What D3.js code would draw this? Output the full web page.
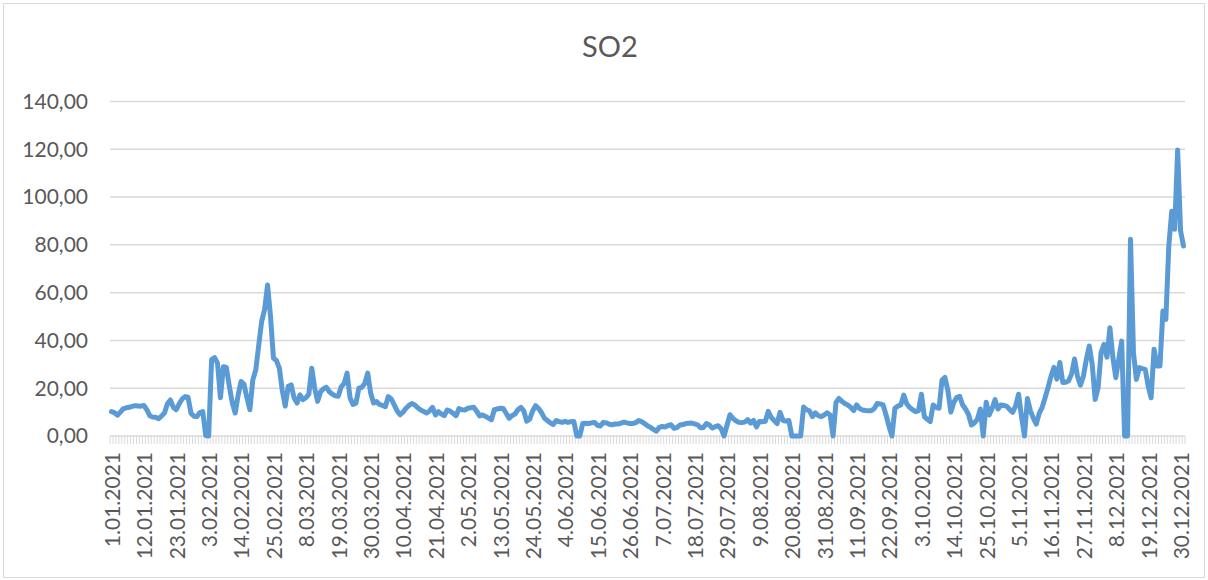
<!DOCTYPE html>
<html>
<head>
<meta charset="utf-8">
<script src="https://cdn.jsdelivr.net/npm/d3@7"></script>
<style>
  html, body { margin: 0; padding: 0; background: #fff; }
  svg { display: block; font-family: Lato, "Open Sans", sans-serif; }
</style>
</head>
<body>
<svg id="chart" width="1208" height="580"></svg>
<script>
const chartTitle = 'SO2';

// daily SO2 values, 1.01.2021 .. 31.12.2021
const so2Values = [
  10.2, 9.8, 8.7, 10.0, 11.4, 11.8, 12.0, 12.4, 12.7, 12.6,
  12.5, 12.8, 11.0, 8.5, 7.9, 7.8, 7.2, 8.4, 9.6, 13.5,
  15.1, 12.0, 11.0, 13.5, 15.5, 16.5, 16.2, 9.5, 8.3, 8.1,
  9.8, 10.2, 0.2, 0.0, 32.0, 32.8, 30.5, 16.0, 29.0, 28.7,
  21.0, 14.0, 9.6, 17.0, 22.8, 21.6, 16.0, 11.0, 23.5, 27.7,
  38.0, 48.0, 53.0, 63.2, 50.0, 32.6, 31.6, 28.4, 19.0, 12.5,
  20.7, 21.4, 16.0, 13.8, 17.2, 15.2, 16.0, 17.5, 28.4, 20.0,
  14.5, 18.5, 19.8, 20.4, 18.5, 17.5, 16.8, 16.6, 20.6, 22.0,
  26.3, 16.0, 13.2, 13.7, 20.0, 20.4, 22.0, 26.3, 18.0, 13.8,
  14.4, 13.2, 12.8, 12.3, 16.5, 15.5, 13.0, 10.5, 8.9, 10.0,
  11.6, 12.8, 13.6, 13.0, 11.8, 10.9, 10.3, 9.6, 10.5, 12.0,
  8.8, 10.2, 9.2, 8.5, 10.9, 10.4, 9.5, 8.5, 11.5, 11.0,
  10.9, 11.6, 11.8, 12.0, 10.4, 8.4, 8.8, 8.2, 7.5, 6.8,
  11.0, 11.3, 11.6, 11.5, 9.5, 7.4, 8.5, 9.2, 11.0, 12.0,
  10.5, 6.2, 7.0, 10.5, 12.7, 11.5, 9.8, 7.5, 6.5, 5.5,
  4.8, 6.5, 6.0, 5.7, 6.1, 5.7, 6.0, 6.1, 0.0, 0.0,
  5.2, 5.3, 5.2, 5.5, 5.7, 4.5, 4.2, 5.7, 5.5, 4.9,
  4.7, 5.0, 5.0, 5.4, 5.8, 5.5, 5.2, 5.2, 5.6, 6.5,
  6.0, 5.2, 4.3, 3.6, 2.8, 2.0, 3.6, 4.0, 3.8, 4.4,
  4.7, 3.2, 3.5, 4.6, 4.8, 5.2, 5.3, 5.4, 5.1, 4.7,
  3.5, 3.6, 5.2, 4.6, 3.3, 3.9, 4.3, 3.0, 0.0, 4.5,
  8.9, 7.4, 6.4, 5.7, 5.6, 5.8, 6.8, 5.4, 6.5, 3.8,
  6.1, 6.0, 6.2, 10.3, 7.8, 6.5, 5.2, 9.9, 6.5, 6.2,
  6.5, 0.0, 0.0, 0.0, 0.0, 12.1, 11.0, 10.5, 8.1, 9.7,
  8.5, 8.1, 8.8, 9.7, 8.8, 0.0, 14.0, 15.7, 14.5, 13.6,
  13.0, 12.0, 10.6, 13.0, 11.5, 10.9, 10.7, 10.6, 10.6, 11.5,
  13.6, 13.4, 13.0, 8.8, 4.0, 0.0, 11.6, 12.5, 13.0, 17.1,
  13.5, 12.0, 11.0, 10.2, 10.5, 17.5, 8.1, 7.0, 6.0, 13.0,
  12.0, 11.6, 23.4, 24.5, 19.0, 10.0, 14.0, 16.2, 16.6, 13.0,
  11.3, 9.0, 4.6, 5.5, 7.0, 11.3, 0.0, 14.1, 8.8, 11.5,
  15.2, 11.3, 13.0, 12.8, 12.4, 11.0, 9.9, 12.7, 17.5, 8.0,
  0.0, 15.7, 10.6, 7.5, 5.0, 9.5, 12.0, 16.0, 20.3, 25.0,
  28.7, 23.8, 30.8, 22.4, 22.5, 23.1, 26.0, 32.2, 25.0, 21.3,
  25.0, 32.0, 37.7, 30.0, 15.3, 20.2, 34.9, 38.4, 33.0, 45.3,
  33.0, 24.4, 32.1, 39.7, 0.0, 0.0, 82.3, 34.9, 23.7, 28.6,
  28.2, 27.9, 20.9, 16.0, 36.3, 29.3, 29.3, 52.3, 48.8, 79.5,
  94.1, 86.5, 119.7, 85.8, 79.5
];

const yTicks = [0, 20, 40, 60, 80, 100, 120, 140];
const labelEvery = 11;

const categories = d3.utcDay.range(new Date(Date.UTC(2021, 0, 1)), new Date(Date.UTC(2022, 0, 1)));
const fmtDate = d => `${d.getUTCDate()}.${String(d.getUTCMonth() + 1).padStart(2, '0')}.${d.getUTCFullYear()}`;
const fmtVal = v => v.toFixed(2).replace('.', ',');

const svg = d3.select('#chart');
const W = 1208, H = 580;
const plot = { left: 110, right: 1185, top: 101.5, bottom: 436 };

svg.append('rect')
  .attr('x', 3.5).attr('y', 3.5)
  .attr('width', W - 7).attr('height', H - 6)
  .attr('fill', '#fff').attr('stroke', '#d9d9d9').attr('stroke-width', 1);

const x = d3.scaleBand()
  .domain(d3.range(categories.length))
  .range([plot.left, plot.right])
  .padding(0);
const cx = i => x(i) + x.bandwidth() / 2;

const y = d3.scaleLinear().domain([0, 140]).range([plot.bottom, plot.top]);

// gridlines + y labels
svg.append('g')
  .selectAll('line')
  .data(yTicks.filter(t => t > 0))
  .join('line')
  .attr('x1', plot.left).attr('x2', plot.right)
  .attr('y1', d => y(d)).attr('y2', d => y(d))
  .attr('stroke', '#d9d9d9').attr('stroke-width', 1.5);

svg.append('g')
  .selectAll('text')
  .data(yTicks)
  .join('text')
  .attr('x', 88)
  .attr('y', d => y(d))
  .attr('dy', '0.35em')
  .attr('text-anchor', 'end')
  .attr('fill', '#595959')
  .attr('font-size', 21)
  .text(fmtVal);

// category axis with a tick at every day boundary
const axisG = svg.append('g');
axisG.selectAll('line.tick')
  .data(d3.range(categories.length + 1))
  .join('line')
  .attr('class', 'tick')
  .attr('x1', i => plot.left + i * x.bandwidth())
  .attr('x2', i => plot.left + i * x.bandwidth())
  .attr('y1', plot.bottom).attr('y2', plot.bottom + 8)
  .attr('stroke', '#d9d9d9').attr('stroke-width', 1);
axisG.append('line')
  .attr('x1', plot.left).attr('x2', plot.right)
  .attr('y1', plot.bottom).attr('y2', plot.bottom)
  .attr('stroke', '#d9d9d9').attr('stroke-width', 1.5);

const labelIdx = d3.range(0, categories.length, labelEvery);
axisG.selectAll('text')
  .data(labelIdx)
  .join('text')
  .attr('transform', i => `translate(${cx(i) + 1},452) rotate(-90)`)
  .attr('dy', '0.35em')
  .attr('text-anchor', 'end')
  .attr('fill', '#595959')
  .attr('font-size', 21)
  .text(i => fmtDate(categories[i]));

// line
const line = d3.line()
  .x((d, i) => cx(i))
  .y(d => y(d));

svg.append('path')
  .datum(so2Values)
  .attr('d', line)
  .attr('fill', 'none')
  .attr('stroke', '#5b9bd5')
  .attr('stroke-width', 5)
  .attr('stroke-linejoin', 'round')
  .attr('stroke-linecap', 'round');

// title
svg.append('text')
  .attr('x', 610).attr('y', 47)
  .attr('dy', '0.35em')
  .attr('text-anchor', 'middle')
  .attr('fill', '#595959')
  .attr('font-size', 29)
  .text(chartTitle);
</script>
</body>
</html>
